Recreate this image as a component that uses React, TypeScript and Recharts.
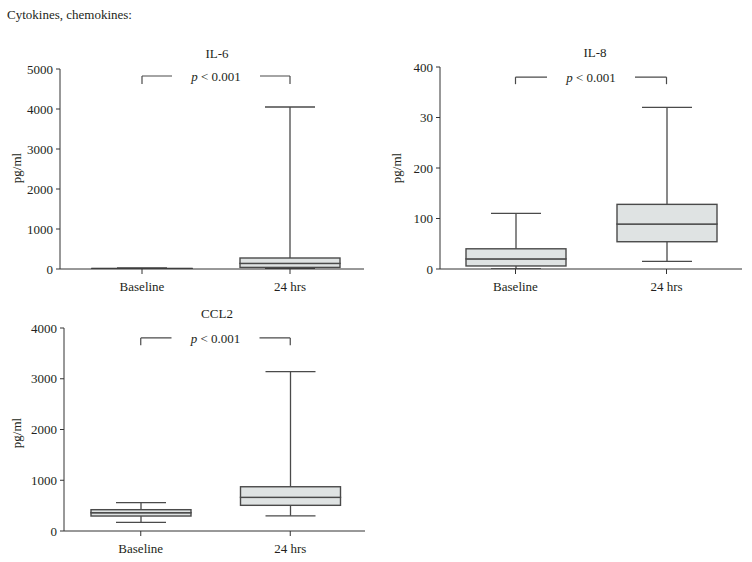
import React from 'react';
import { ComposedChart, Bar, XAxis, YAxis, ReferenceLine } from 'recharts';

const groups = ['Baseline', '24 hrs'];

// five-number summaries
const il6Min = [0, 10];
const il6Q1 = [2, 40];
const il6Median = [6, 140];
const il6Q3 = [15, 275];
const il6Max = [25, 4050];

const il8Min = [0, 15];
const il8Q1 = [6, 54];
const il8Median = [20, 89];
const il8Q3 = [40, 128];
const il8Max = [110, 320];

const ccl2Min = [170, 300];
const ccl2Q1 = [295, 506];
const ccl2Median = [360, 663];
const ccl2Q3 = [420, 872];
const ccl2Max = [560, 3140];

const il6Ticks = [0, 1000, 2000, 3000, 4000, 5000];
const il6TickLabels = ['0', '1000', '2000', '3000', '4000', '5000'];
const il8Ticks = [0, 100, 200, 300, 400];
const il8TickLabels = ['0', '100', '200', '30', '400']; // "30" as printed in the original
const ccl2Ticks = [0, 1000, 2000, 3000, 4000];
const ccl2TickLabels = ['0', '1000', '2000', '3000', '4000'];

// significance bracket: [bar level, end of the down ticks]
const il6Bracket = [4825, 4625];
const il8Bracket = [380, 366];
const ccl2Bracket = [3805, 3660];

const FONT = '"Liberation Serif", "Times New Roman", serif';
const FS = 13;
const STROKE = '#4a4a4a';
const FILL = '#dfe3e3';
const TEXT = '#231f20';
const CAP = 50;

const makeRows = (min: number[], q1: number[], med: number[], q3: number[], max: number[]) =>
  groups.map((name, i) => ({
    name,
    base: min[i],
    wLo: q1[i] - min[i],
    bLo: med[i] - q1[i],
    bHi: q3[i] - med[i],
    wHi: max[i] - q3[i],
  }));

const Empty = () => <g />;

const LowWhisker = (p: any) => {
  const cx = p.x + p.width / 2;
  const y2 = p.y + p.height;
  return (
    <g>
      <line x1={cx} x2={cx} y1={p.y} y2={y2} stroke={STROKE} strokeWidth={1.3} />
      <line x1={cx - CAP / 2} x2={cx + CAP / 2} y1={y2} y2={y2} stroke={STROKE} strokeWidth={1.3} />
    </g>
  );
};

const HighWhisker = (p: any) => {
  const cx = p.x + p.width / 2;
  return (
    <g>
      <line x1={cx} x2={cx} y1={p.y} y2={p.y + p.height} stroke={STROKE} strokeWidth={1.3} />
      <line x1={cx - CAP / 2} x2={cx + CAP / 2} y1={p.y} y2={p.y} stroke={STROKE} strokeWidth={1.3} />
    </g>
  );
};

const BoxPart = (p: any) => (
  <rect x={p.x} y={p.y} width={p.width} height={Math.max(p.height, 0.8)} fill={FILL} stroke={STROKE} strokeWidth={1.4} />
);

const PLabel = (props: any) => {
  const vb = props.viewBox || {};
  const cx = vb.x + (vb.width || 0) / 2;
  const cy = vb.y + (vb.height || 0) / 2;
  return (
    <g>
      <rect x={cx - 44} y={cy - 8} width={88} height={16} fill="#fff" />
      <text x={cx} y={cy + 5} textAnchor="middle" fontSize={FS} fontFamily={FONT} fill={TEXT}>
        <tspan fontStyle="italic">p</tspan> &lt; 0.001
      </text>
    </g>
  );
};

interface PanelProps {
  rows: any[];
  ticks: number[];
  tickLabels: string[];
  bracket: number[];
  left: number;
  top: number;
  width: number;
  height: number;
  yWidth: number;
  margin: { top: number; right: number; bottom: number; left: number };
  padLeft: number;
}

const BoxPanel: React.FC<PanelProps> = ({ rows, ticks, tickLabels, bracket, left, top, width, height, yWidth, margin, padLeft }) => (
  <div style={{ position: 'absolute', left, top }}>
    <ComposedChart width={width} height={height} data={rows} margin={margin} barSize={100}>
      <XAxis
        dataKey="name"
        height={30}
        padding={{ left: padLeft, right: 0 }}
        tickSize={5}
        tickMargin={8}
        stroke="#333"
        tick={{ fontSize: FS, fill: TEXT, fontFamily: FONT }}
      />
      <YAxis
        width={yWidth}
        domain={[0, ticks[ticks.length - 1]]}
        ticks={ticks}
        interval={0}
        tickFormatter={(v: number) => tickLabels[ticks.indexOf(v)]}
        tickSize={4}
        tickMargin={3}
        stroke="#333"
        tick={{ fontSize: FS, fill: TEXT, fontFamily: FONT }}
        allowDataOverflow
      />
      <Bar dataKey="base" stackId="s" shape={<Empty />} isAnimationActive={false} />
      <Bar dataKey="wLo" stackId="s" shape={<LowWhisker />} isAnimationActive={false} />
      <Bar dataKey="bLo" stackId="s" shape={<BoxPart />} isAnimationActive={false} />
      <Bar dataKey="bHi" stackId="s" shape={<BoxPart />} isAnimationActive={false} />
      <Bar dataKey="wHi" stackId="s" shape={<HighWhisker />} isAnimationActive={false} />
      <ReferenceLine
        segment={[{ x: groups[0], y: bracket[0] }, { x: groups[1], y: bracket[0] }]}
        stroke={STROKE}
        strokeWidth={1.2}
        ifOverflow="visible"
        label={<PLabel />}
      />
      <ReferenceLine
        segment={[{ x: groups[0], y: bracket[0] }, { x: groups[0], y: bracket[1] }]}
        stroke={STROKE}
        strokeWidth={1.2}
        ifOverflow="visible"
      />
      <ReferenceLine
        segment={[{ x: groups[1], y: bracket[0] }, { x: groups[1], y: bracket[1] }]}
        stroke={STROKE}
        strokeWidth={1.2}
        ifOverflow="visible"
      />
    </ComposedChart>
  </div>
);

const textStyle: React.CSSProperties = {
  position: 'absolute',
  fontFamily: FONT,
  fontSize: FS,
  color: TEXT,
  whiteSpace: 'nowrap',
  lineHeight: '14px',
};

const Title = ({ x, y, children }: { x: number; y: number; children: React.ReactNode }) => (
  <div style={{ ...textStyle, left: x - 50, top: y - 7, width: 100, textAlign: 'center' }}>{children}</div>
);

const YLabel = ({ x, y }: { x: number; y: number }) => (
  <div style={{ ...textStyle, left: x - 30, top: y - 7, width: 60, textAlign: 'center', transform: 'rotate(-90deg)' }}>
    pg/ml
  </div>
);

export default function App() {
  return (
    <div style={{ position: 'absolute', left: 0, top: 0, width: 752, height: 562, background: '#fff', overflow: 'hidden' }}>
      <div style={{ ...textStyle, left: 7, top: 8 }}>Cytokines, chemokines:</div>

      <Title x={217} y={54}>IL-6</Title>
      <YLabel x={17} y={168} />
      <BoxPanel
        rows={makeRows(il6Min, il6Q1, il6Median, il6Q3, il6Max)}
        ticks={il6Ticks}
        tickLabels={il6TickLabels}
        bracket={il6Bracket}
        left={0}
        top={0}
        width={370}
        height={300}
        yWidth={60}
        margin={{ top: 69, right: 6, bottom: 1, left: 0 }}
        padLeft={8}
      />

      <Title x={595} y={53}>IL-8</Title>
      <YLabel x={397} y={168} />
      <BoxPanel
        rows={makeRows(il8Min, il8Q1, il8Median, il8Q3, il8Max)}
        ticks={il8Ticks}
        tickLabels={il8TickLabels}
        bracket={il8Bracket}
        left={370}
        top={0}
        width={382}
        height={300}
        yWidth={70}
        margin={{ top: 67, right: 10, bottom: 1, left: 0 }}
        padLeft={0}
      />

      <Title x={217} y={314}>CCL2</Title>
      <YLabel x={17} y={433} />
      <BoxPanel
        rows={makeRows(ccl2Min, ccl2Q1, ccl2Median, ccl2Q3, ccl2Max)}
        ticks={ccl2Ticks}
        tickLabels={ccl2TickLabels}
        bracket={ccl2Bracket}
        left={0}
        top={280}
        width={370}
        height={282}
        yWidth={64}
        margin={{ top: 48, right: 5, bottom: 1, left: 0 }}
        padLeft={2}
      />
    </div>
  );
}
